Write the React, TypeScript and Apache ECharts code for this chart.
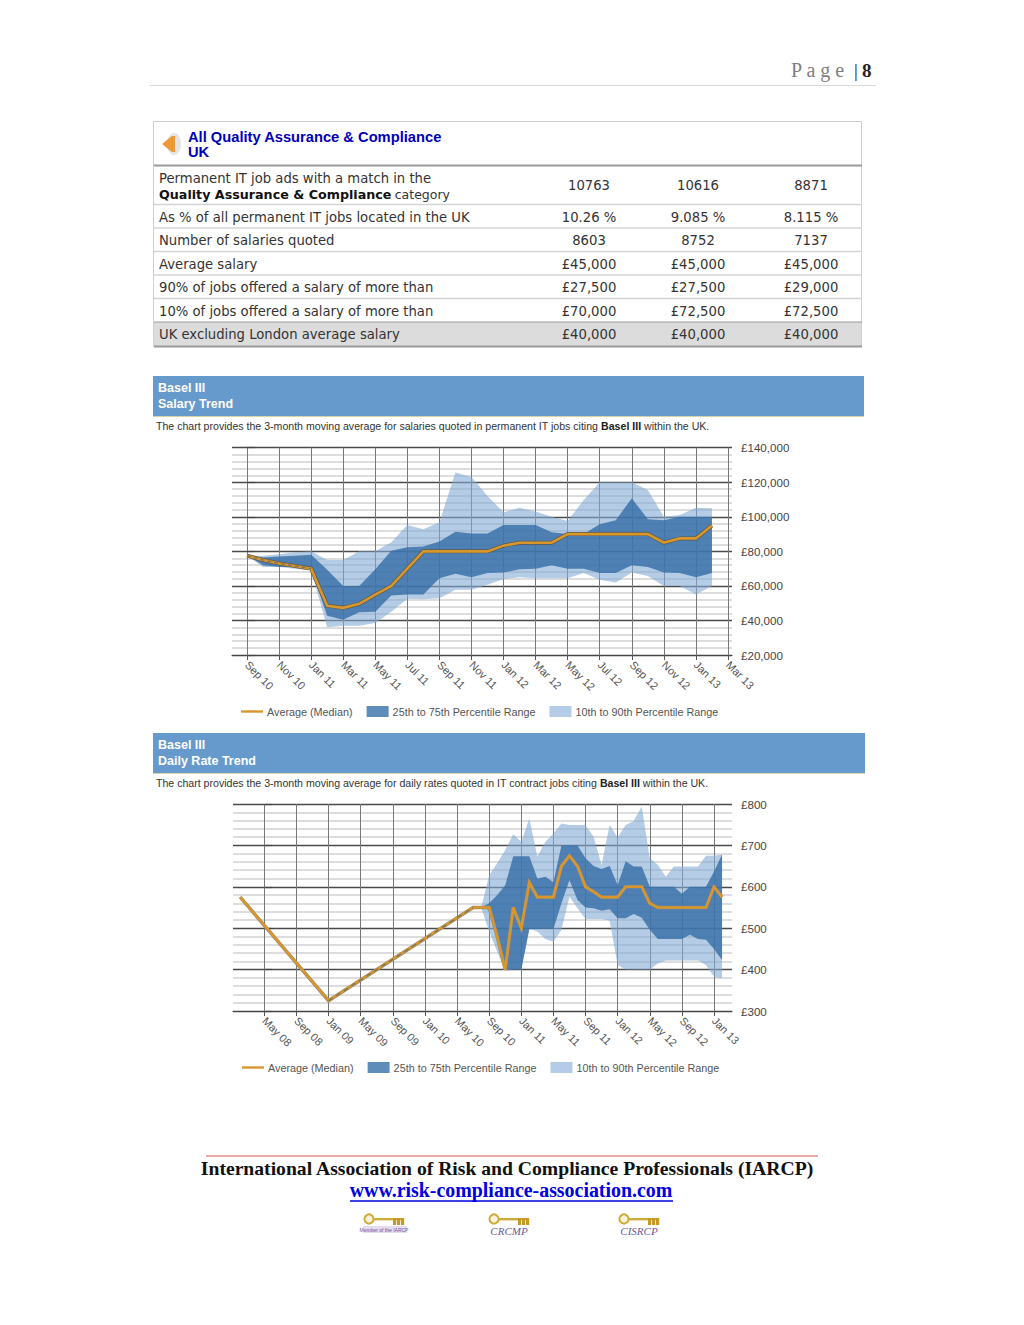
import React, { useEffect, useRef } from "react";
import * as echarts from "echarts";

// ---------- Table ----------
const tableRowLabels = [
  "As % of all permanent IT jobs located in the UK",
  "Number of salaries quoted",
  "Average salary",
  "90% of jobs offered a salary of more than",
  "10% of jobs offered a salary of more than",
  "UK excluding London average salary",
];
const tableFirstRow = ["10763", "10616", "8871"];
const tableRowValues = [
  ["10.26 %", "9.085 %", "8.115 %"],
  ["8603", "8752", "7137"],
  ["£45,000", "£45,000", "£45,000"],
  ["£27,500", "£27,500", "£29,000"],
  ["£70,000", "£72,500", "£72,500"],
  ["£40,000", "£40,000", "£40,000"],
];

// ---------- Salary chart (monthly, Sep 10 = 0 ... Feb 13 = 29), £ thousands ----------
const salaryTickLabels = ["Sep 10","Nov 10","Jan 11","Mar 11","May 11","Jul 11","Sep 11","Nov 11","Jan 12","Mar 12","May 12","Jul 12","Sep 12","Nov 12","Jan 13","Mar 13"];
const salaryMedian = [77.5,75,73,71.5,70,48.5,47.3,49.6,55,60,70,80,80,80,80,80,83.3,85,85,85,90,90,90,90,90,90,85,87.5,87.5,95];
const salaryP10 = [77.5,71,71,70,69,36,37,37,38.5,45,52.5,52.3,52.9,57.7,57.7,60.6,64,65,64.5,64.5,64.5,67.4,63.5,62,67.7,65.8,60,60,55,60];
const salaryP25 = [77.5,72,71,71,69.5,42.7,40.4,44.8,45,54.5,55,55,64.5,67,65,67.5,67.7,69.7,70,72,70,70,67.5,67.5,72,71,67.7,67.5,65,67.5];
const salaryP75 = [77.5,76.4,77,77.5,78,69.3,60,60,69.7,80.3,82.4,82.8,85.7,91.4,90.3,90.3,95.3,95.3,95.3,91,90,90,95.7,98,110.7,98.6,98,100,100,100];
const salaryP90 = [77.5,77.5,78.3,79.5,80,75,75,80,80,85.3,95.3,92.8,96.8,125.7,123,112,102.6,105.3,103,100,97.6,109.7,120,120,120,115.5,100,101,105.3,105];

// ---------- Daily rate chart (May 08 = 0, Feb 13 = 57) ----------
const dailyTickLabels = ["May 08","Sep 08","Jan 09","May 09","Sep 09","Jan 10","May 10","Sep 10","Jan 11","May 11","Sep 11","Jan 12","May 12","Sep 12","Jan 13"];
const dailyMedianMonths = [-3,8,26,27,28,29,30,31,32,33,34,35,36,37,38,39,40,41,42,43,44,45,46,47,48,49,50,51,52,53,54,55,56,57];
const dailyMedian = [575,325,550,550,550,480,400,550,500,610,575,575,575,650,675,650,600,588,575,575,575,600,600,600,560,550,550,550,550,550,550,550,600,575];
const dailyBandMonths = [27,28,29,30,31,32,33,34,35,36,37,38,39,40,41,42,43,44,45,46,47,48,49,50,51,52,53,54,55,56,57];
const dailyP10 = [550,492,443,397,400,400,498,492,474,467,496,576,548,522,522,522,518,411,400,400,400,400,415,422,422,422,422,422,411,383,379];
const dailyP25 = [550,544,472,400,400,400,498,498,498,498,560,616,568,550,548,542,546,524,524,534,525,496,474,474,474,474,484,474,472,450,423];
const dailyP75 = [550,560,580,604,674,674,674,620,624,611,700,700,700,669,650,643,650,604,662,649,649,600,600,600,600,583,600,600,600,637,678];
const dailyP90 = [550,628,657,689,727,709,765,673,709,729,753,749,749,749,721,653,749,719,749,759,794,669,653,624,649,649,649,649,675,675,678];

const MEDIAN = "Average (Median)";
const MID = "25th to 75th Percentile Range";
const WIDE = "10th to 90th Percentile Range";
const LIGHT = "rgba(130,170,212,0.6)";
const DARK = "rgba(54,109,166,0.8)";
const ORANGE = "#d9962b";
const SANS = "Liberation Sans, Arial, sans-serif";
const VERDANA = "DejaVu Sans, Verdana, sans-serif";
const SERIF = "Liberation Serif, Times New Roman, serif";

function band(name: string, color: string, xs: number[], lo: number[], hi: number[], axis: number) {
  const rows = xs.map((x, i) => [x, lo[i], hi[i]]);
  return {
    type: "custom", name, xAxisIndex: axis, yAxisIndex: axis, silent: true,
    itemStyle: { color }, data: rows, encode: { x: 0, y: [1, 2] },
    renderItem: (p: any, api: any) => {
      if (p.dataIndex !== 0) return null;
      const up = rows.map((r) => api.coord([r[0], r[2]]));
      const down = rows.map((r) => api.coord([r[0], r[1]])).reverse();
      return { type: "polygon", shape: { points: up.concat(down) }, style: { fill: color } };
    },
  };
}
function line(name: string, data: number[][], axis: number, color: string, width: number, dash?: number[]) {
  return {
    type: "line", name, data, xAxisIndex: axis, yAxisIndex: axis, symbol: "none", silent: true,
    lineStyle: { color, width, type: dash || "solid", join: "miter" }, itemStyle: { color },
  };
}
function xAxis(grid: number, min: number, max: number, ticks: number[], labels: string[]) {
  return {
    type: "value", gridIndex: grid, min, max,
    axisLine: { show: true, onZero: false, lineStyle: { color: "#444", width: 1.2 } },
    axisTick: { show: true, length: 5, customValues: ticks, lineStyle: { color: "#555" } },
    axisLabel: {
      customValues: ticks, rotate: -45, margin: 8, fontSize: 11, color: "#555", fontFamily: SANS,
      formatter: (v: number) => labels[ticks.indexOf(v)] ?? "",
    },
    splitLine: { show: true, lineStyle: { color: "#777", width: 1 } },
  };
}
function yAxis(grid: number, min: number, max: number, interval: number, fmt: (v: number) => string) {
  return {
    type: "value", gridIndex: grid, position: "right", min, max, interval,
    axisLine: { show: false },
    axisTick: { show: true, length: 8, lineStyle: { color: "#444", width: 1.2 } },
    axisLabel: { margin: 9, fontSize: 11.6, color: "#444", fontFamily: SANS, formatter: fmt },
    splitLine: { show: true, lineStyle: { color: "#4a4a4a", width: 1.3 } },
    minorTick: { show: false, splitNumber: 5 },
    minorSplitLine: { show: true, lineStyle: { color: "#d2d2d2", width: 1.6 } },
  };
}
function legend(left: number, top: number) {
  return {
    left, top, orient: "horizontal", selectedMode: false, itemWidth: 22, itemHeight: 11, itemGap: 14,
    padding: 0, textStyle: { fontSize: 10.8, color: "#555", fontFamily: SANS, padding: [0, 0, 0, -1] },
    data: [
      { name: MEDIAN, icon: "path://M0 0h22v2.4H0z" },
      { name: MID, icon: "rect", itemStyle: { color: "#5f8db9" } },
      { name: WIDE, icon: "rect", itemStyle: { color: "#b4cce5" } },
    ],
  };
}
const txt = (x: number, y: number, text: string, font: any, extra: any = {}) => ({
  type: "text", x, y, silent: true,
  style: { text, textAlign: "left", textVerticalAlign: "middle", ...font, ...extra },
});
const ln = (x1: number, y1: number, x2: number, y2: number, stroke: string, lineWidth = 1) => ({
  type: "line", silent: true, shape: { x1, y1, x2, y2 }, style: { stroke, lineWidth },
});
const rc = (x: number, y: number, width: number, height: number, fill: string) => ({
  type: "rect", silent: true, shape: { x, y, width, height }, style: { fill },
});

function keyLogo(x: number, label: string, font: any, tint?: string) {
  const out: any[] = [
    { type: "circle", silent: true, shape: { cx: x + 6, cy: 1219, r: 4.6 }, style: { fill: "#fbf4d8", stroke: "#d0aa3a", lineWidth: 2 } },
    rc(x + 11, 1218, 29, 2.4, "#d0aa3a"),
    rc(x + 30, 1218, 3.2, 7, "#c49a25"),
    rc(x + 34, 1218, 3.2, 7, "#c49a25"),
    rc(x + 38, 1218, 3.2, 7, "#c49a25"),
  ];
  if (tint) out.push(rc(x, 1226, 44, 7, tint));
  out.push(txt(x + 21, tint ? 1229.5 : 1231, label, font, { textAlign: "center" }));
  return out;
}

function pageGraphics() {
  const cols = [589, 698, 811];
  const rowY = [217, 240, 264, 287.5, 311, 334.5];
  const f13 = { font: `13.2px ${VERDANA}`, fill: "#333" };
  const g: any[] = [];
  // page header
  g.push(txt(791, 70, "P a g e", { font: `20px ${SERIF}`, fill: "#7f7f7f" }));
  g.push(txt(854, 70, "|", { font: `19px ${SERIF}`, fill: "#222" }));
  g.push(txt(862, 70, "8", { font: `bold 19px ${SERIF}`, fill: "#222" }));
  g.push(ln(149, 85.5, 876, 85.5, "#d9d9d9"));
  // table
  g.push({ type: "rect", silent: true, shape: { x: 153.5, y: 121.5, width: 708, height: 225 }, style: { fill: "#fff", stroke: "#cfcfcf", lineWidth: 1 } });
  g.push(rc(154, 322, 707, 24, "#dcdcdc"));
  g.push(ln(154, 165.5, 862, 165.5, "#9a9a9a", 2));
  [204.5, 228, 251.5, 275, 298.5, 322].forEach((y) => g.push(ln(154, y, 862, y, y === 322 ? "#9a9a9a" : "#d4d4d4", y === 322 ? 1 : 1.4)));
  g.push(ln(154, 346.5, 862, 346.5, "#9a9a9a", 2));
  g.push({ type: "ellipse", silent: true, shape: { cx: 174, cy: 144, rx: 7, ry: 11 }, style: { fill: "#e4e4e4" } });
  g.push({ type: "polygon", silent: true, shape: { points: [[162, 144], [172, 136], [175, 136], [175, 152], [172, 152]] }, style: { fill: "#ee9a33" } });
  g.push(txt(188, 137, "All Quality Assurance & Compliance", { font: `bold 14.7px ${SANS}`, fill: "#0000b8" }));
  g.push(txt(188, 152, "UK", { font: `bold 14.7px ${SANS}`, fill: "#0000b8" }));
  g.push(txt(159, 178, "Permanent IT job ads with a match in the", f13));
  g.push({
    type: "text", x: 159, y: 194, silent: true,
    style: {
      text: "{b|Quality Assurance & Compliance} {r|category}", textVerticalAlign: "middle",
      rich: { b: { fill: "#111", fontFamily: VERDANA, fontWeight: "bold", fontSize: 12.7 }, r: { fill: "#333", fontFamily: VERDANA, fontSize: 12.5 } },
    },
  });
  tableFirstRow.forEach((v, i) => g.push(txt(cols[i], 185.5, v, f13, { textAlign: "center" })));
  tableRowLabels.forEach((t, r) => {
    g.push(txt(159, rowY[r], t, f13));
    tableRowValues[r].forEach((v, i) => g.push(txt(cols[i], rowY[r], v, f13, { textAlign: "center" })));
  });
  // section banners
  const sect = (top: number, w: number, a: string, b: string, cap: string) => {
    g.push(rc(153, top, w, 40, "#6699cc"));
    g.push(ln(153, top + 40.5, 153 + w, top + 40.5, "#d6d3a8", 1));
    g.push(txt(158, top + 12, a, { font: `bold 12.5px ${SANS}`, fill: "#fff" }));
    g.push(txt(158, top + 28, b, { font: `bold 12.5px ${SANS}`, fill: "#fff" }));
    g.push({
      type: "text", x: 156, y: top + 50, silent: true,
      style: {
        text: `{r|${cap.split("Basel III")[0]}}{b|Basel III}{r|${cap.split("Basel III")[1]}}`, textVerticalAlign: "middle",
        rich: { r: { fill: "#333", fontFamily: SANS, fontSize: 10.58 }, b: { fill: "#222", fontFamily: SANS, fontSize: 10.58, fontWeight: "bold" } },
      },
    });
  };
  sect(376, 711, "Basel III", "Salary Trend", "The chart provides the 3-month moving average for salaries quoted in permanent IT jobs citing Basel III within the UK.");
  sect(733, 712, "Basel III", "Daily Rate Trend", "The chart provides the 3-month moving average for daily rates quoted in IT contract jobs citing Basel III within the UK.");
  // footer
  g.push(ln(206, 1156, 818, 1156, "#d9534f", 1));
  g.push(txt(507, 1168, "International Association of Risk and Compliance Professionals (IARCP)", { font: `bold 19.65px ${SERIF}`, fill: "#111" }, { textAlign: "center" }));
  g.push(txt(511, 1190, "www.risk-compliance-association.com", { font: `bold 19.9px ${SERIF}`, fill: "#0000e0" }, { textAlign: "center" }));
  g.push(ln(350, 1201, 673, 1201, "#0000e0", 1.4));
  g.push(...keyLogo(363, "Member of the IARCP", { font: `5px ${SANS}`, fill: "#6f55a0" }, "#e6dcef"));
  g.push(...keyLogo(488, "CRCMP", { font: `italic 11px ${SERIF}`, fill: "#6a5a9a" }));
  g.push(...keyLogo(618, "CISRCP", { font: `italic 11px ${SERIF}`, fill: "#6a5a9a" }));
  return g;
}

export default function App() {
  const ref = useRef<HTMLDivElement>(null);
  useEffect(() => {
    document.body.style.margin = "0";
    const chart = echarts.init(ref.current!, undefined, { renderer: "svg" });
    const salaryX = salaryMedian.map((_, i) => i);
    const salaryTicks = salaryTickLabels.map((_, i) => i * 2);
    const dailyTicks = dailyTickLabels.map((_, i) => i * 4);
    const salaryLine = salaryMedian.map((v, i) => [i, v]);
    const dailyLine = dailyMedian.map((v, i) => [dailyMedianMonths[i], v]);
    chart.setOption({
      animation: false,
      backgroundColor: "#fff",
      grid: [
        { left: 232, top: 447.7, width: 500, height: 207.3 },
        { left: 233, top: 804, width: 499, height: 207 },
      ],
      xAxis: [
        xAxis(0, -0.936, 30.25, salaryTicks, salaryTickLabels),
        xAxis(1, -3.9, 58.24, dailyTicks, dailyTickLabels),
      ],
      yAxis: [
        yAxis(0, 20, 140, 20, (v) => `£${v},000`),
        yAxis(1, 300, 800, 100, (v) => `£${v}`),
      ],
      legend: [legend(241, 706), legend(242, 1062)],
      series: [
        band(WIDE, LIGHT, salaryX, salaryP10, salaryP90, 0),
        band(MID, DARK, salaryX, salaryP25, salaryP75, 0),
        line("Median outline", salaryLine, 0, "#5a5a50", 4),
        line(MEDIAN, salaryLine, 0, ORANGE, 2.6),
        line("Sparse data", salaryLine.slice(0, 5), 0, "#77705f", 1.2, [4, 3]),
        band(WIDE, LIGHT, dailyBandMonths, dailyP10, dailyP90, 1),
        band(MID, DARK, dailyBandMonths, dailyP25, dailyP75, 1),
        line("Median outline", dailyLine, 1, "#8a8a80", 3.4),
        line(MEDIAN, dailyLine, 1, ORANGE, 2.6),
        line("Sparse data", dailyLine.slice(1, 3), 1, "#77705f", 1.2, [5, 4]),
      ],
      graphic: pageGraphics(),
    });
    return () => chart.dispose();
  }, []);
  return <div ref={ref} style={{ position: "absolute", left: 0, top: 0, width: 1024, height: 1325 }} />;
}
